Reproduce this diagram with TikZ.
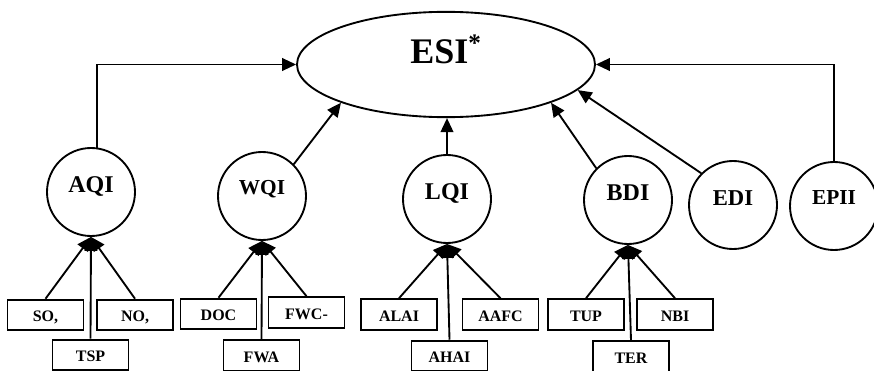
\documentclass[tikz,border=0pt]{standalone}
\usepackage{fontspec}
\setmainfont{Liberation Serif}
\usetikzlibrary{arrows.meta,shapes.geometric}

\begin{document}
\begin{tikzpicture}[
  x=7.5pt,y=-7.5pt,
  index/.style={ellipse,draw,line width=1.4pt,inner sep=0pt,minimum width=223.5pt,minimum height=79pt,font=\bfseries\fontsize{27pt}{27pt}\selectfont,text height=18pt,text depth=19pt},
  sub/.style={circle,draw,line width=1.4pt,inner sep=0pt,minimum size=66pt,font=\bfseries\fontsize{18pt}{18pt}\selectfont,text height=12pt,text depth=11pt},
  subSmall/.style={sub,font=\bfseries\fontsize{16pt}{16pt}\selectfont,text depth=15pt},
  ind/.style={rectangle,draw,line width=1.4pt,inner sep=0pt,minimum width=57pt,minimum height=23pt,font=\bfseries\fontsize{12pt}{12pt}\selectfont,text height=10pt,text depth=0pt},
  arrow/.style={-{Triangle[length=10.5pt,width=9.5pt]},line width=1.4pt}
]
\useasboundingbox (0,0) rectangle (87.4,37.1);
\node[index] (esi) at (44.6,6.45) {ESI\textsuperscript{*}};
\node[sub] (aqi) at (9.1,19.2) {AQI};
\node[subSmall] (wqi) at (26.2,19.6) {WQI};
\node[sub] (lqi) at (44.7,19.9) {LQI};
\node[sub] (bdi) at (62.8,20.0) {BDI};
\node[sub,font=\bfseries\fontsize{17pt}{17pt}\selectfont] (edi) at (73.3,20.5) {EDI};
\node[subSmall] (epii) at (83.4,20.6) {EPII};
\node[ind] (so2) at (4.55,31.5) {SO,};
\node[ind] (tsp) at (9.05,35.5) {TSP};
\node[ind] (no2) at (13.5,31.5) {NO,};
\node[ind] (doc) at (21.85,31.4) {DOC};
\node[ind] (fwa) at (26.15,35.55) {FWA};
\node[ind] (fwc) at (30.65,31.25) {FWC-};
\node[ind] (alai) at (39.9,31.45) {ALAI};
\node[ind] (ahai) at (44.95,35.6) {AHAI};
\node[ind] (aafc) at (50.05,31.45) {AAFC};
\node[ind] (tup) at (58.6,31.45) {TUP};
\node[ind] (ter) at (63.1,35.65) {TER};
\node[ind] (nbi) at (67.5,31.45) {NBI};
\draw[arrow] (aqi.82) |- (esi.west);
\draw[arrow] (epii.north) |- (esi.east);
\draw[arrow] (wqi.45) -- (esi.200);
\draw[arrow] (lqi.north) -- (lqi.north |- esi.south);
\draw[arrow] (bdi.135) -- (esi.340);
\draw[arrow] (edi.135) -- (esi.349.5);
\draw[arrow] (so2.north) -- (aqi.south);
\draw[arrow] (tsp.north) -- (aqi.south);
\draw[arrow] (no2.north) -- (aqi.south);
\draw[arrow] (doc.north) -- (wqi.south);
\draw[arrow] (fwa.north) -- (wqi.south);
\draw[arrow] (fwc.north) -- (wqi.south);
\draw[arrow] (alai.north) -- (lqi.south);
\draw[arrow] (ahai.north) -- (lqi.south);
\draw[arrow] (aafc.north) -- (lqi.south);
\draw[arrow] (tup.north) -- (bdi.south);
\draw[arrow] (ter.north) -- (bdi.south);
\draw[arrow] (nbi.north) -- (bdi.south);
\end{tikzpicture}
\end{document}
